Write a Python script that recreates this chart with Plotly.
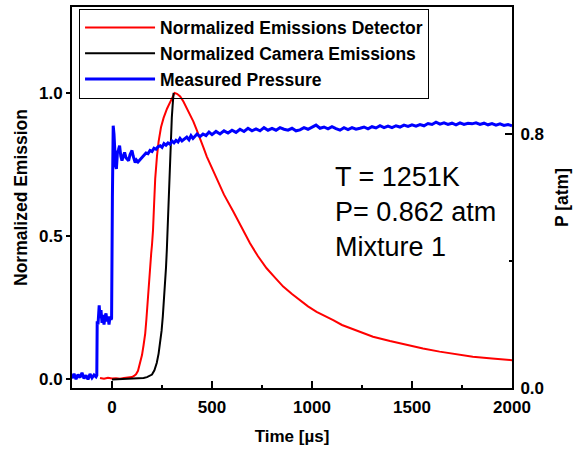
import plotly.graph_objects as go

# ---- data ----
det_t = [-60, -40, -20, 0, 20, 40, 60, 80, 100, 110, 120, 130, 141, 150, 158, 166, 172, 178,
         185, 191, 196, 200, 205, 211, 216, 225, 233, 245, 258, 275, 291, 303, 313, 325, 341,
         357, 374, 390, 407, 423, 440, 457, 474, 490, 507, 532, 560, 607, 650, 690, 730, 773,
         815, 856, 900, 940, 980, 1023, 1065, 1106, 1150, 1200, 1239, 1305, 1390, 1472, 1555,
         1638, 1720, 1804, 1900, 1988, 2000]
det_v = [0.005, 0.002, 0.006, 0.003, 0.004, 0.002, 0.005, 0.006, 0.008, 0.012, 0.018, 0.03,
         0.056, 0.085, 0.12, 0.16, 0.21, 0.277, 0.335, 0.394, 0.44, 0.47, 0.52, 0.62, 0.70,
         0.78, 0.83, 0.88, 0.913, 0.945, 0.97, 0.99, 1.0, 0.997, 0.988, 0.97, 0.947, 0.925,
         0.90, 0.872, 0.843, 0.81, 0.778, 0.752, 0.726, 0.685, 0.645, 0.585, 0.53, 0.475,
         0.43, 0.388, 0.355, 0.324, 0.298, 0.277, 0.255, 0.236, 0.222, 0.207, 0.19, 0.177,
         0.166, 0.149, 0.134, 0.12, 0.108, 0.097, 0.088, 0.079, 0.073, 0.067, 0.067]

cam_t = [0, 40, 80, 120, 140, 158, 175, 190, 200, 212, 224, 233, 241, 248, 254, 260, 266, 270,
         274, 279, 283, 287, 291, 295, 299, 303, 306, 308]
cam_v = [0.0, 0.001, 0.001, 0.002, 0.003, 0.005, 0.008, 0.012, 0.017, 0.032, 0.058, 0.09, 0.126,
         0.17, 0.219, 0.275, 0.336, 0.39, 0.45, 0.55, 0.644, 0.72, 0.796, 0.86, 0.913, 0.955,
         0.985, 1.0]

p_t = [-200, -190, -180, -170, -160, -150, -140, -130, -120, -110, -100, -90, -80, -76, -74, -70,
       -64, -60, -55, -50, -45, -40, -35, -30, -25, -20, -15, -10, -5, -2, 2, 6, 10, 14, 18, 22,
       27, 32, 38, 44, 50, 56, 63, 70, 76, 83, 90, 96, 100, 106, 112, 116, 122, 130, 141, 150,
       160, 170, 180, 190, 200, 210, 220, 230, 241, 250, 260, 270, 280, 290, 300, 310, 320, 330,
       340, 350, 360, 374, 385, 395, 405, 415, 425, 440, 455, 470, 485, 500, 520, 540, 560, 580,
       600, 620, 640, 660, 680, 700, 720, 740, 760, 780, 800, 820, 840, 860, 880, 900, 920, 940,
       960, 980, 1000, 1020, 1040, 1060, 1080, 1100, 1120, 1140, 1160, 1180, 1200, 1220, 1240,
       1260, 1280, 1300, 1320, 1340, 1360, 1380, 1400, 1420, 1440, 1460, 1480, 1500, 1520, 1540,
       1560, 1580, 1600, 1620, 1640, 1660, 1680, 1700, 1720, 1740, 1760, 1780, 1800, 1820, 1840,
       1860, 1880, 1900, 1920, 1940, 1960, 1980, 2000]
p_v = [0.03, 0.045, 0.028, 0.042, 0.033, 0.048, 0.03, 0.04, 0.027, 0.044, 0.032, 0.041, 0.035,
       0.04, 0.21, 0.2, 0.26, 0.22, 0.245, 0.205, 0.23, 0.2, 0.225, 0.235, 0.21, 0.225, 0.2,
       0.225, 0.215, 0.22, 0.6, 0.826, 0.80, 0.74, 0.70, 0.69, 0.74, 0.75, 0.763, 0.73, 0.716,
       0.73, 0.742, 0.725, 0.72, 0.716, 0.735, 0.745, 0.748, 0.73, 0.715, 0.71, 0.718, 0.712,
       0.72, 0.728, 0.733, 0.74, 0.738, 0.748, 0.745, 0.755, 0.752, 0.76, 0.763, 0.758, 0.77,
       0.765, 0.772, 0.768, 0.778, 0.772, 0.78, 0.775, 0.786, 0.778, 0.784, 0.79, 0.782, 0.795,
       0.786, 0.792, 0.8, 0.792, 0.8, 0.795, 0.806, 0.798, 0.808, 0.8, 0.81, 0.803, 0.812,
       0.805, 0.815, 0.808, 0.818, 0.81, 0.816, 0.81, 0.82, 0.812, 0.818, 0.812, 0.82, 0.815,
       0.812, 0.818, 0.81, 0.813, 0.82, 0.815, 0.822, 0.828, 0.818, 0.822, 0.816, 0.823, 0.817,
       0.812, 0.82, 0.814, 0.82, 0.815, 0.818, 0.822, 0.816, 0.823, 0.819, 0.826, 0.82, 0.825,
       0.82, 0.826, 0.822, 0.828, 0.824, 0.829, 0.825, 0.83, 0.826, 0.833, 0.83, 0.837, 0.831,
       0.835, 0.83, 0.834, 0.829, 0.835, 0.83, 0.834, 0.832, 0.835, 0.83, 0.834, 0.829, 0.833,
       0.828, 0.832, 0.827, 0.83, 0.826]

x_ticks = [0, 500, 1000, 1500, 2000]
y_ticks = [0.0, 0.5, 1.0]
y_ticklabels = ["0.0", "0.5", "1.0"]
p_ticks = [0.0, 0.8]
p_ticklabels = ["0.0", "0.8"]

FONT = "Arial, Liberation Sans, sans-serif"
tickf = dict(family=FONT, size=17, color="black", weight="bold")
xtitlef = dict(family=FONT, size=17, color="black", weight="bold")
ytitlef = dict(family=FONT, size=17.5, color="black", weight="bold")

fig = go.Figure()
fig.add_trace(go.Scatter(x=det_t, y=det_v, mode="lines", name="Normalized Emissions Detector",
                         line=dict(color="#ff0000", width=2), yaxis="y"))
fig.add_trace(go.Scatter(x=cam_t, y=cam_v, mode="lines", name="Normalized Camera Emissions",
                         line=dict(color="#000000", width=2), yaxis="y"))
fig.add_trace(go.Scatter(x=p_t, y=p_v, mode="lines", name="Measured Pressure",
                         line=dict(color="#0000ff", width=3), yaxis="y2"))

fig.update_layout(
    width=575, height=449,
    margin=dict(l=72, r=63, t=7, b=61, autoexpand=False),
    paper_bgcolor="white", plot_bgcolor="white",
    showlegend=True,
    legend=dict(x=0.016, y=0.996, xanchor="left", yanchor="top",
                bgcolor="rgba(255,255,255,0)", bordercolor="black", borderwidth=1,
                font=dict(family=FONT, size=17.5, color="black", weight="bold"),
                itemwidth=70, tracegroupgap=0),
    xaxis=dict(range=[-200, 2000], tickvals=x_ticks, ticks="inside", ticklen=7, tickwidth=1.5,
               tickcolor="black", showline=True, linewidth=2, linecolor="black", mirror=True,
               showgrid=False, zeroline=False, tickfont=tickf, ticklabelstandoff=3,
               minor=dict(dtick=250, tick0=0, ticks="inside", ticklen=3, tickwidth=1.5,
                          tickcolor="black", showgrid=False),
               title=dict(text="Time [µs]", font=xtitlef, standoff=14)),
    xaxis2=dict(range=[-200, 2000], overlaying="x", side="top", anchor="y", dtick=250, tick0=0,
                ticks="inside", ticklen=3, tickwidth=1.5, tickcolor="black",
                showticklabels=False, showline=False, showgrid=False, zeroline=False),
    yaxis=dict(range=[-0.03, 1.30], tickvals=y_ticks, ticktext=y_ticklabels, ticks="outside",
               ticklen=4, tickwidth=1.5, tickcolor="black", showline=True, linewidth=2,
               linecolor="black", showgrid=False, zeroline=False, tickfont=tickf,
               title=dict(text="Normalized Emission", font=ytitlef, standoff=7)),
    yaxis3=dict(range=[-0.03, 1.30], tickvals=y_ticks, overlaying="y", side="left", anchor="x",
                ticks="inside", ticklen=7, tickwidth=1.5, tickcolor="black",
                showticklabels=False, showline=False, showgrid=False, zeroline=False),
    yaxis2=dict(range=[0, 1.2], tickvals=p_ticks, ticktext=p_ticklabels, overlaying="y",
                side="right", anchor="x", ticks="inside", ticklen=7, tickwidth=1.5,
                tickcolor="black", showline=True, linewidth=2, linecolor="black",
                showgrid=False, zeroline=False, tickfont=tickf, ticklabelstandoff=3,
                minor=dict(tickvals=[0.4], ticks="inside", ticklen=3, tickwidth=1.5,
                           tickcolor="black", showgrid=False),
                title=dict(text="P [atm]", font=ytitlef, standoff=13)),
    annotations=[dict(text="T = 1251K<br>P= 0.862 atm<br>Mixture 1", xref="paper",
                      yref="paper", x=0.593, y=0.463, xanchor="left", yanchor="middle",
                      align="left", showarrow=False,
                      font=dict(family=FONT, size=27, color="black"))],
)

fig.write_html("out.html")
